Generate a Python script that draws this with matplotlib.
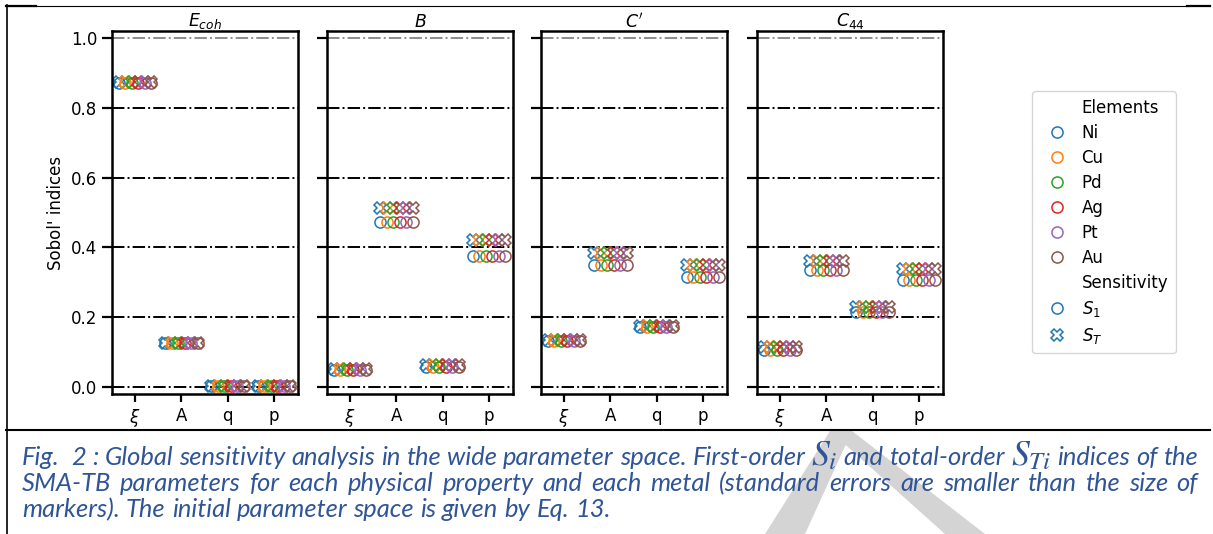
import numpy as np
import matplotlib.pyplot as plt
from matplotlib.lines import Line2D
from matplotlib.patches import Polygon

W, H = 1213, 534

properties = [r'$E_{coh}$', r'$B$', r"$C'$", r'$C_{44}$']
params = [r'$\xi$', 'A', 'q', 'p']
elements = ['Ni', 'Cu', 'Pd', 'Ag', 'Pt', 'Au']
colors = ['tab:blue', 'tab:orange', 'tab:green', 'tab:red', 'tab:purple', 'tab:brown']

# rows: property, columns: xi, A, q, p (same for every metal)
s1 = [[0.872, 0.125, 0.002, 0.002],
      [0.049, 0.473, 0.058, 0.375],
      [0.132, 0.349, 0.171, 0.316],
      [0.107, 0.335, 0.216, 0.306]]
st = [[0.874, 0.126, 0.003, 0.003],
      [0.052, 0.514, 0.062, 0.421],
      [0.135, 0.383, 0.174, 0.349],
      [0.114, 0.361, 0.229, 0.337]]

caption = [
    ["Fig.", "", "2", ":", "Global", "sensitivity", "analysis", "in", "the", "wide", "parameter",
     "space.", "First-order", r"$S_i$", "and", "total-order", r"$S_{Ti}$", "indices", "of", "the"],
    ["SMA-TB", "parameters", "for", "each", "physical", "property", "and", "each", "metal",
     "(standard", "errors", "are", "smaller", "than", "the", "size", "of"],
    ["markers).", "The", "initial", "parameter", "space", "is", "given", "by", "Eq.", "13."],
]


def px(x, y):
    return x / W, 1 - y / H


fig = plt.figure(figsize=(W / 100, H / 100), dpi=100)

lefts = [112, 327, 541, 757]
offsets = (np.arange(len(elements)) - 2.5) * 0.14
axes = []
for k, left in enumerate(lefts):
    x0, y0 = px(left, 394)
    ax = fig.add_axes([x0, y0, 186 / W, 363 / H])
    axes.append(ax)
    for yy in np.arange(0, 1.01, 0.2):
        ax.axhline(yy, ls='-.', color='0.55' if yy > 0.99 else 'k', lw=1.4, zorder=0)
    for i, el in enumerate(elements):
        xs = np.arange(len(params)) + offsets[i]
        ax.plot(xs, s1[k], 'o', ms=8, mfc='none', mec=colors[i], mew=1.1, ls='none')
        ax.plot(xs, st[k], 'X', ms=8, mfc='none', mec=colors[i], mew=1.1, ls='none')
    ax.set_xlim(-0.5, 3.52)
    ax.set_ylim(-0.02, 1.02)
    ax.set_xticks(range(len(params)))
    ax.set_xticklabels(params)
    ax.set_yticks(np.arange(0, 1.01, 0.2))
    ax.tick_params(labelsize=12, width=1.6, length=6)
    ax.tick_params(axis='y', length=7)
    for sp in ax.spines.values():
        sp.set_linewidth(1.8)
    ax.set_title(properties[k], fontsize=12.5, pad=1)
    if k == 0:
        ax.set_ylabel("Sobol' indices", fontsize=12)
    else:
        ax.set_yticklabels([])

handles = [Line2D([], [], ls='none')]
labels = ['Elements']
for i, el in enumerate(elements):
    handles.append(Line2D([], [], marker='o', ls='none', ms=8, mfc='none', mec=colors[i], mew=1.1))
    labels.append(el)
handles.append(Line2D([], [], ls='none'))
labels.append('Sensitivity')
handles.append(Line2D([], [], marker='o', ls='none', ms=8, mfc='none', mec=colors[0], mew=1.1))
labels.append(r'$S_1$')
handles.append(Line2D([], [], marker='X', ls='none', ms=8, mfc='none', mec=colors[0], mew=1.1))
labels.append(r'$S_T$')
fig.legend(handles, labels, loc='upper left', bbox_to_anchor=px(1024, 83), fontsize=12,
           handletextpad=0.5, borderpad=0.45, labelspacing=0.42, edgecolor='0.8', fancybox=True)

# page frame around the figure
fig.add_artist(Line2D([6 / W, 1190 / W], [1 - 5.5 / H] * 2, color='k', lw=0.8))
fig.add_artist(Line2D([6 / W, 36 / W], [1 - 5.5 / H] * 2, color='k', lw=1.6))
fig.add_artist(Line2D([1187 / W, 1210 / W], [1 - 5.5 / H] * 2, color='k', lw=1.6))
fig.add_artist(Line2D([7 / W, 7 / W], [0, 1 - 5 / H], color='k', lw=1.2))
fig.add_artist(Line2D([6 / W, 1210 / W], [1 - 429.5 / H] * 2, color='k', lw=1.5))

# grey watermark strokes
for poly in ([(830, 431), (852, 431), (805, 534), (765, 534)],
             [(830, 431), (852, 431), (985, 534), (945, 534)]):
    fig.add_artist(Polygon([px(x, y) for x, y in poly], closed=True, transform=fig.transFigure,
                           facecolor='#d4d4d4', edgecolor='none', zorder=-1))

# caption, justified like the document text
blue = '#2f5597'
renderer = fig.canvas.get_renderer()


def make_words(words, size):
    arts = []
    for w in words:
        if w.startswith('$'):
            t = fig.text(0, 0, w, fontsize=size * 1.4, color=blue, math_fontfamily='stix',
                         va='baseline')
        else:
            t = fig.text(0, 0, w, fontsize=size, color=blue, style='italic', family='Lato',
                         va='baseline')
        arts.append(t)
    return arts


base = 14
probe = make_words(caption[2], base)
natural = sum(t.get_window_extent(renderer).width for t in probe)
space = fig.text(0, 0, 'a a', fontsize=base, style='italic', family='Lato')
sw = space.get_window_extent(renderer).width - 2 * fig.text(0, 0, 'a', fontsize=base, style='italic',
                                                             family='Lato').get_window_extent(renderer).width
for t in fig.texts[:]:
    t.remove()
size = base * 590 / (natural + sw * (len(caption[2]) - 1))
sw = sw * size / base

baselines = [465, 491, 517]
for li, words in enumerate(caption):
    arts = make_words(words, size)
    widths = [t.get_window_extent(renderer).width for t in arts]
    if li < 2:
        gap = (1198 - 22 - sum(widths)) / (len(arts) - 1)
    else:
        gap = sw
    x = 22
    for t, w in zip(arts, widths):
        t.set_position(px(x, baselines[li]))
        x += w + gap

fig.savefig('out.png', dpi=100)
